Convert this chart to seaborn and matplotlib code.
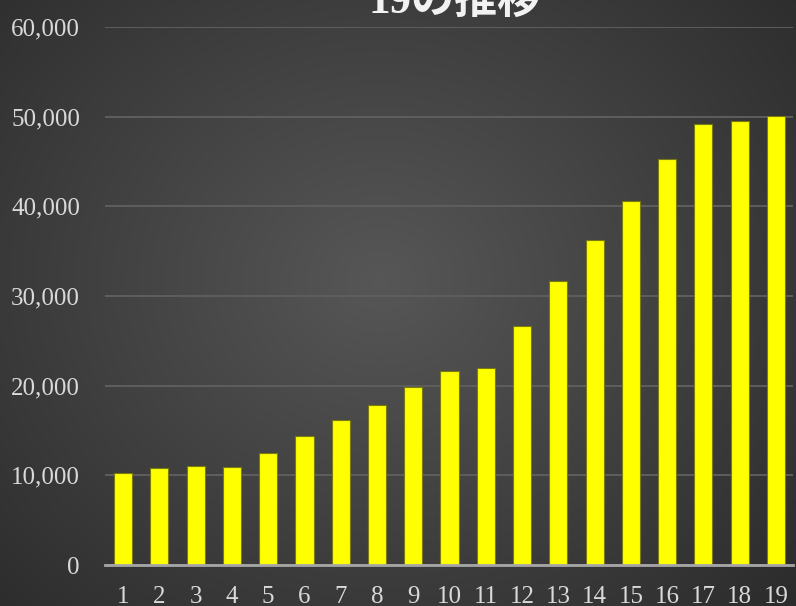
import numpy as np
import pandas as pd
import seaborn as sns
import matplotlib
matplotlib.use("Agg")
import matplotlib.pyplot as plt
from matplotlib.ticker import FuncFormatter

labels = [str(i) for i in range(1, 20)]
values = [10290, 10780, 11040, 10930, 12520, 14380, 16170, 17840, 19840, 21630,
          21960, 26640, 31660, 36230, 40560, 45300, 49130, 49530, 50030]
title = "19の推移"

df = pd.DataFrame({"label": labels, "value": values})

sns.set_theme(style="dark")
plt.rcParams["font.family"] = ["Liberation Serif", "Noto Sans CJK JP", "DejaVu Sans"]

fig = plt.figure(figsize=(7.96, 6.06), dpi=100)

# radial gradient background
bg = fig.add_axes([0, 0, 1, 1], zorder=0)
yy, xx = np.mgrid[0:606, 0:796]
r = np.sqrt(((xx - 380) / 560.0) ** 2 + ((yy - 280) / 480.0) ** 2)
shade = np.clip(0.34 - 0.17 * r, 0.16, 0.34)
bg.imshow(np.dstack([shade, shade, shade]), aspect="auto", extent=[0, 1, 0, 1])
bg.axis("off")

ax = fig.add_axes([105 / 796, 1 - 565 / 606, 688 / 796, (565 - 27) / 606], zorder=1)
ax.set_facecolor("none")

sns.barplot(data=df, x="label", y="value", color="#ffff00", width=0.5,
            edgecolor="#7a7a10", linewidth=0.8, saturation=1, ax=ax, zorder=3)

ax.set_ylim(0, 60000)
ax.set_xlim(-0.5, 18.47)
ax.set_yticks(range(0, 60001, 10000))
ax.yaxis.set_major_formatter(FuncFormatter(lambda v, p: f"{int(v):,}"))
ax.grid(axis="y", color="#5e5e5e", linewidth=1.4, zorder=0)
ax.grid(axis="x", visible=False)
for s in ["top", "right", "left"]:
    ax.spines[s].set_visible(False)
ax.spines["bottom"].set_color("#a6a6a6")
ax.spines["bottom"].set_linewidth(2)
ax.spines["bottom"].set_zorder(4)
ax.tick_params(axis="y", length=0, pad=18, labelsize=18, labelcolor="#d9d9d9")
ax.tick_params(axis="x", length=0, pad=15, labelsize=18, labelcolor="#d9d9d9")
ax.set_xlabel("")
ax.set_ylabel("")

fig.text(455 / 796, 1 - 1 / 606, title, ha="center", va="center", fontsize=31,
         color="#f2f2f2", fontweight="bold", zorder=5)

fig.savefig("out.png", dpi=100)
